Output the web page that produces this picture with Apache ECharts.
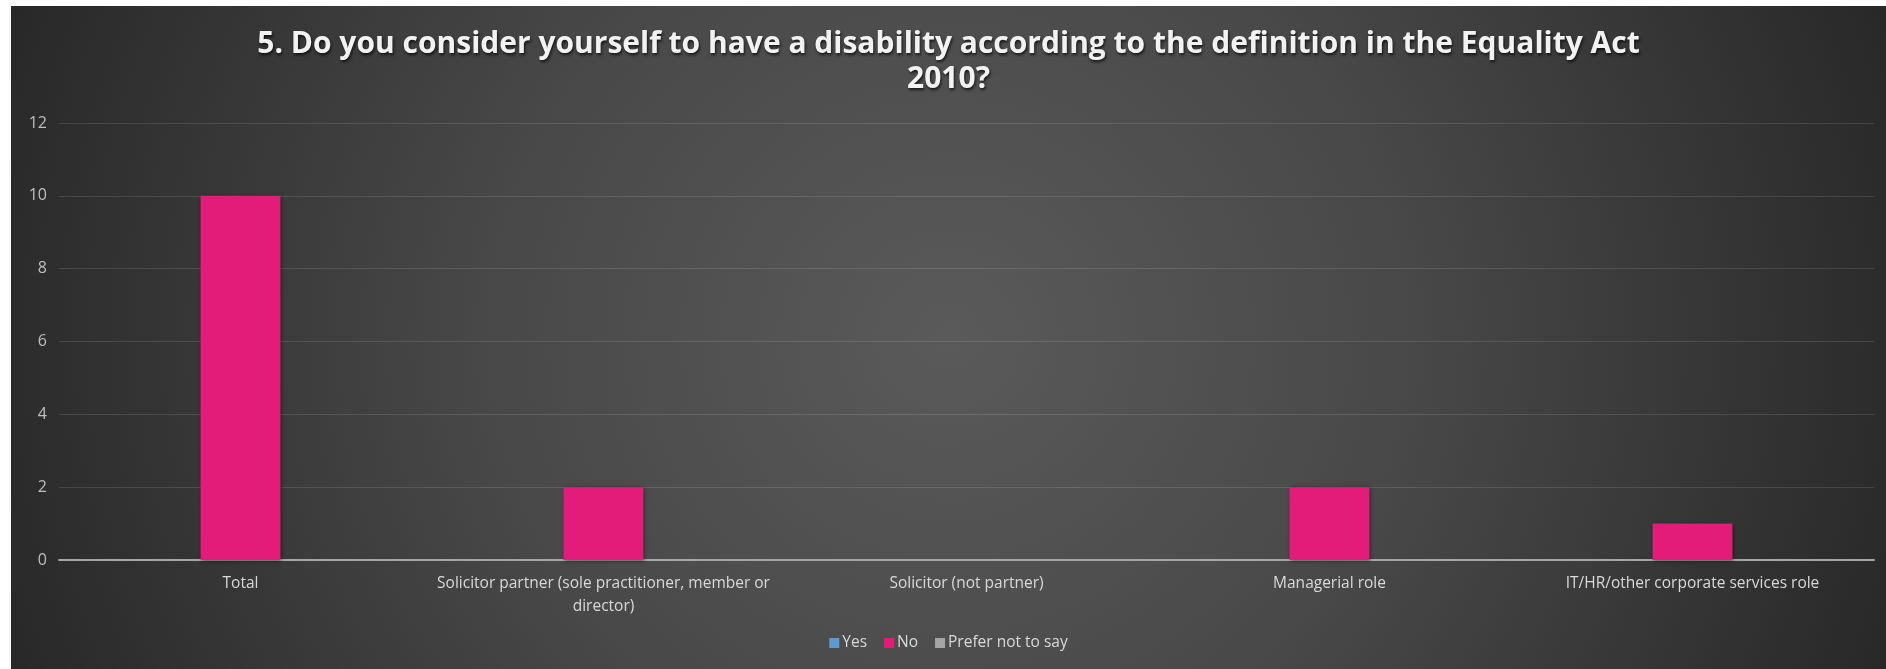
<!DOCTYPE html>
<html>
<head>
<meta charset="utf-8">
<script src="https://cdn.jsdelivr.net/npm/echarts@6/dist/echarts.min.js"></script>
<style>
html,body{margin:0;padding:0;background:#fff;width:1886px;height:669px;overflow:hidden;}
#chart{position:absolute;left:11px;top:6px;width:1875px;height:663px;
background:radial-gradient(ellipse 55% 150% at 50% 50%, #5a5a5a 0%, #484848 45%, #262626 100%);}
</style>
</head>
<body>
<div id="chart"></div>
<script>
const titleText = "5. Do you consider yourself to have a disability according to the definition in the Equality Act\n2010?";
const categories = ["Total", "Solicitor partner (sole practitioner, member or\ndirector)", "Solicitor (not partner)", "Managerial role", "IT/HR/other corporate services role"];
const seriesNames = ["Yes", "No", "Prefer not to say"];
const yesValues = [0, 0, 0, 0, 0];
const noValues = [10, 2, 0, 2, 1];
const preferValues = [0, 0, 0, 0, 0];
const colors = ["#5b9bd5", "#e31c7a", "#a5a5a5"];

const chart = echarts.init(document.getElementById('chart'), null, {renderer: 'canvas'});
const mk = (name, data, color) => ({
  name, type: 'bar', data,
  barGap: '0%', barCategoryGap: '34%',
  itemStyle: {color, shadowColor: 'rgba(0,0,0,0.5)', shadowBlur: 4, shadowOffsetX: 1, shadowOffsetY: 1},
  emphasis: {disabled: true}
});
chart.setOption({
  backgroundColor: 'transparent',
  animation: false,
  color: colors,
  title: {
    text: titleText,
    left: 'center',
    top: 16,
    textStyle: {
      color: '#f2f2f2', fontFamily: 'Open Sans', fontWeight: 'bold', fontSize: 30, lineHeight: 35,
      textShadowColor: 'rgba(0,0,0,0.7)', textShadowBlur: 3, textShadowOffsetX: 1, textShadowOffsetY: 2
    }
  },
  grid: {left: 48, right: 12, top: 117, bottom: 109, containLabel: false},
  legend: {
    data: seriesNames,
    bottom: 13,
    left: 'center',
    itemWidth: 10, itemHeight: 10, itemGap: 17,
    icon: 'rect',
    textStyle: {color: '#d9d9d9', fontFamily: 'Open Sans', fontSize: 15.5, padding: [0,0,0,-2]}
  },
  xAxis: {
    type: 'category',
    data: categories,
    axisLine: {lineStyle: {color: '#a6a6a6', width: 2}},
    axisTick: {show: false},
    axisLabel: {color: '#d9d9d9', fontFamily: 'Open Sans', fontSize: 15.5, lineHeight: 23, margin: 12, interval: 0}
  },
  yAxis: {
    type: 'value',
    min: 0, max: 12, interval: 2,
    axisLine: {show: false},
    axisTick: {show: false},
    splitLine: {lineStyle: {color: 'rgba(255,255,255,0.12)', width: 1}},
    axisLabel: {color: '#bfbfbf', fontFamily: 'Open Sans', fontSize: 16, margin: 12}
  },
  series: [
    mk(seriesNames[0], yesValues, colors[0]),
    mk(seriesNames[1], noValues, colors[1]),
    mk(seriesNames[2], preferValues, colors[2])
  ]
});
</script>
</body>
</html>
